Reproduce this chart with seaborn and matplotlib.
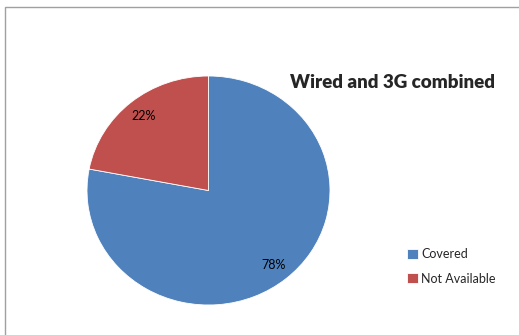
import matplotlib
matplotlib.use("Agg")
import matplotlib.pyplot as plt
import seaborn as sns
from matplotlib.patches import Rectangle

sns.set_theme(style="white")
plt.rcParams['font.family'] = ['Lato', 'DejaVu Sans']

labels = ["Covered", "Not Available"]
shares = [78, 22]
colors = ["#4F81BD", "#C0504D"]
title = "Wired and 3G combined"

fig = plt.figure(figsize=(5.19, 3.35), dpi=100)
fig.patch.set_facecolor("white")

# chart area border (runs off the right and bottom edge)
fig.add_artist(Rectangle((5 / 519, -0.1), 1.2, 0.1 + (1 - 7 / 335),
                         transform=fig.transFigure, fill=False,
                         edgecolor="#A0A0A0", linewidth=1.0))

ax = fig.add_axes([87 / 519, 30 / 335, 243 / 519, 229 / 335])
wedges, texts = ax.pie(shares, colors=colors, startangle=90, counterclock=False,
                       wedgeprops=dict(edgecolor="white", linewidth=0.6),
                       labels=[f"{s}%" for s in shares], labeldistance=0.84,
                       textprops=dict(fontsize=9, color="black", ha="center", va="center"))
ax.set_aspect("auto")
ax.set_xlim(-1, 1)
ax.set_ylim(-1, 1)
ax.axis("off")

fig.text(290 / 519, 1 - 83 / 335, title, fontsize=13.5, fontweight="heavy",
         ha="left", va="center")

fig.legend(wedges, labels, loc="upper left", bbox_to_anchor=(401 / 519, 1 - 242 / 335),
           frameon=False, fontsize=9, handlelength=0.85, handleheight=0.85,
           handletextpad=0.25, labelspacing=1.0, borderpad=0)

fig.savefig("out.png", dpi=100)
